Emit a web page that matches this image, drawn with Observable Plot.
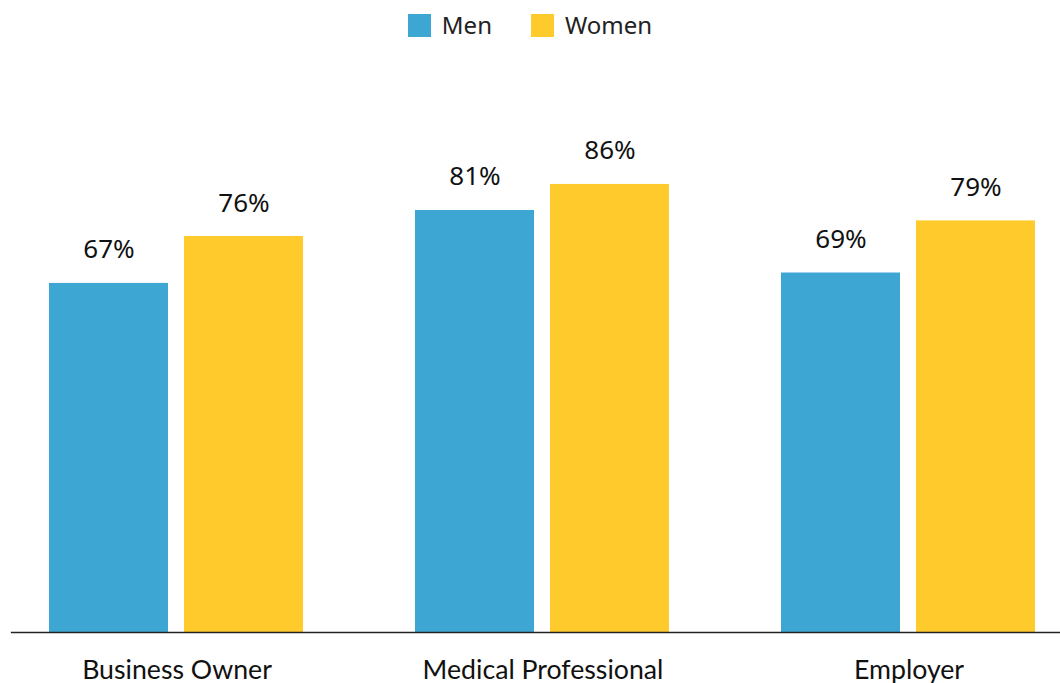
<!DOCTYPE html>
<html>
<head>
<meta charset="utf-8">
<script src="https://cdn.jsdelivr.net/npm/d3@7"></script>
<script src="https://cdn.jsdelivr.net/npm/@observablehq/plot@0.6"></script>
<style>
  html, body { margin: 0; padding: 0; background: #fff; overflow: hidden; }
  #legend { height: 50px; box-sizing: border-box; padding-top: 12px; display: flex; justify-content: center; align-items: flex-start; font-family: "Noto Sans", sans-serif; font-size: 24px; color: #222; }
  .item { display: flex; align-items: center; line-height: 26px; }
  .item + .item { margin-left: 39px; }
  .sw { width: 23px; height: 23px; margin-right: 11px; }
</style>
</head>
<body>
<div id="legend"></div>
<div id="chart"></div>
<script>
const categories = ["Business Owner", "Medical Professional", "Employer"];
const genders = ["Men", "Women"];
const menValues = [67, 81, 69];
const womenValues = [76, 86, 79];
const colors = ["#3EA6D3", "#FFCA2C"];

const data = [];
categories.forEach((c, i) => {
  data.push({category: c, gender: "Men", value: menValues[i]});
  data.push({category: c, gender: "Women", value: womenValues[i]});
});

const legend = document.getElementById("legend");
genders.forEach((g, i) => {
  const it = document.createElement("div");
  it.className = "item";
  it.innerHTML = `<span class="sw" style="background:${colors[i]}"></span><span>${g}</span>`;
  legend.appendChild(it);
});

const chart = Plot.plot({
  width: 1060,
  height: 640,
  marginLeft: 10,
  marginRight: 0,
  marginTop: 61,
  marginBottom: 58,
  style: {fontFamily: "'Noto Sans', sans-serif", fontSize: "24px", background: "#fff", overflow: "visible"},
  fx: {domain: categories, paddingInner: 0.302, paddingOuter: 0.0825, align: 0.628, label: null},
  x: {domain: genders, paddingInner: 0.1176, paddingOuter: 0, axis: null},
  y: {domain: [0, 100], axis: null},
  color: {domain: genders, range: colors},
  marks: [
    Plot.barY(data, {fx: "category", x: "gender", y: "value", fill: "gender"}),
    Plot.text(data, {fx: "category", x: "gender", y: "value", text: d => d.value + "%", lineAnchor: "bottom", dy: -25, fontSize: 26, fill: "#111", fontFamily: "'Noto Sans', sans-serif"}),
    Plot.frame({anchor: "bottom", facet: "super", stroke: "#222", strokeWidth: 1.3, insetLeft: -38, insetRight: -23}),
    Plot.axisFx({anchor: "bottom", tickSize: 0, tickPadding: 28, label: null, fontSize: 26.7, fontFamily: "Lato, sans-serif", fill: "#111"})
  ]
});
document.getElementById("chart").appendChild(chart);
</script>
</body>
</html>
